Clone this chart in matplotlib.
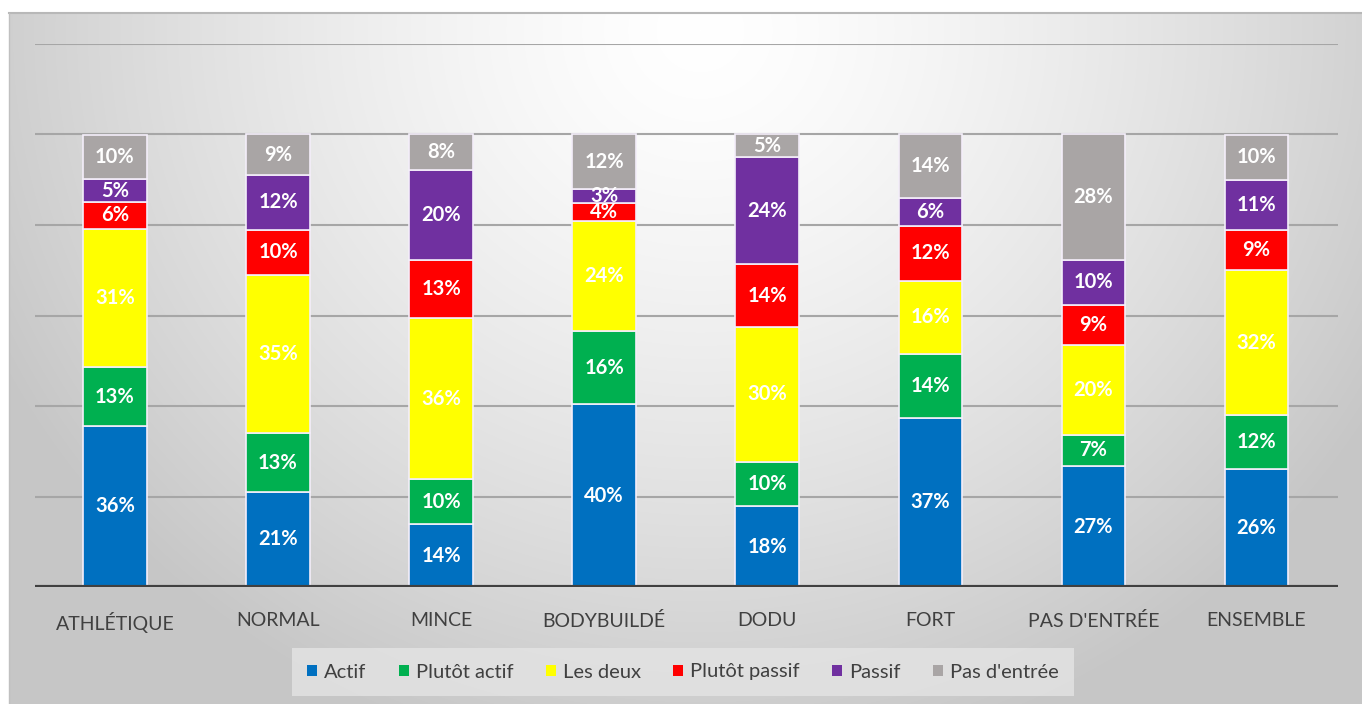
import numpy as np
import matplotlib
matplotlib.use("Agg")
import matplotlib.pyplot as plt
from matplotlib.patches import Patch

categories = ["ATHLÉTIQUE", "NORMAL", "MINCE", "BODYBUILDÉ", "DODU", "FORT", "PAS D'ENTRÉE", "ENSEMBLE"]
series = ["Actif", "Plutôt actif", "Les deux", "Plutôt passif", "Passif", "Pas d'entrée"]
actif = [36, 21, 14, 40, 18, 37, 27, 26]
plutot_actif = [13, 13, 10, 16, 10, 14, 7, 12]
les_deux = [31, 35, 36, 24, 30, 16, 20, 32]
plutot_passif = [6, 10, 13, 4, 14, 12, 9, 9]
passif = [5, 12, 20, 3, 24, 6, 10, 11]
pas_entree = [10, 9, 8, 12, 5, 14, 28, 10]
colors = ["#0070C0", "#00B050", "#FFFF00", "#FF0000", "#7030A0", "#A9A5A5"]

plt.rcParams['font.family'] = ['Lato', 'DejaVu Sans']

W, H = 1362, 704
fig = plt.figure(figsize=(W / 100, H / 100), dpi=100)
fig.patch.set_facecolor("white")

# background gradient
bg = fig.add_axes([0, 0, 1, 1], zorder=-10)
bg.set_xlim(0, W)
bg.set_ylim(H, 0)
bg.axis("off")
xx, yy = np.meshgrid(np.arange(W), np.arange(H))
d = np.sqrt(((xx - 700) / 780.0) ** 2 + ((yy - 30) / 740.0) ** 2)
v = 1 - 0.22 * np.clip(d, 0, 1) ** 1.4
img = np.dstack([v, v, v])
img[:13, :, :] = 1.0
img[:, :9, :] = 1.0
bg.imshow(img, extent=(0, W, H, 0), aspect="auto", interpolation="bilinear")
bg.plot([9, W], [13, 13], color="#b8b8b8", lw=1.5)
bg.plot([9, 9], [13, H], color="#c0c0c0", lw=1.0)

ax = fig.add_axes([35 / W, (H - 587) / H, 1303 / W, 543 / H])
ax.set_facecolor("none")
ax.set_xlim(-0.49, 7.5)
ax.set_ylim(0, 120)

data = np.array([actif, plutot_actif, les_deux, plutot_passif, passif, pas_entree], dtype=float)
norm = data / data.sum(axis=0) * 100
x = np.arange(len(categories))
bottom = np.zeros(len(categories))
for i, name in enumerate(series):
    ax.bar(x, norm[i], 0.39, bottom=bottom, color=colors[i], edgecolor="#f4eefa",
           linewidth=1.2, label=name, zorder=3)
    for j in range(len(categories)):
        ax.text(x[j], bottom[j] + norm[i][j] / 2, f"{int(data[i][j])}%", ha="center", va="center",
                color="white", fontsize=14.5, fontweight="bold", zorder=4)
    bottom += norm[i]

for yv in [20, 40, 60, 80, 100, 120]:
    ax.axhline(yv, color="#a6a6a6", lw=1.5, zorder=1)
ax.axhline(0, color="#404040", lw=3, zorder=5)

for s in ax.spines.values():
    s.set_visible(False)
ax.set_yticks([])
ax.set_xticks(x)
ax.set_xticklabels(categories, fontsize=14, color="#404040")
ax.tick_params(axis="x", length=0, pad=18)

handles = [Patch(facecolor=c, edgecolor="none") for c in colors]
leg = fig.legend(handles, series, loc="center", bbox_to_anchor=(683 / W, (H - 672) / H), ncol=6,
                 frameon=True, fontsize=14.5, handlelength=0.5, handleheight=0.5, handletextpad=0.35,
                 columnspacing=1.6, borderpad=0.75, fancybox=False, labelcolor="#404040")
leg.get_frame().set_facecolor("#e4e4e4")
leg.get_frame().set_edgecolor("none")

fig.savefig("out.png", dpi=100, facecolor=fig.get_facecolor())
